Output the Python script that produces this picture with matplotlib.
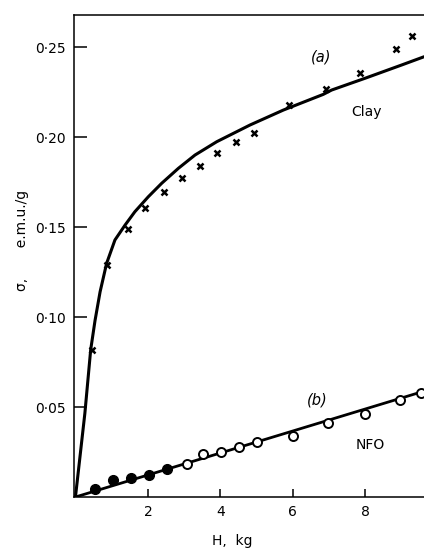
import matplotlib
matplotlib.use("Agg")
import matplotlib.pyplot as plt
from matplotlib.ticker import FixedLocator

# ---- data ----
clay_h = [0.46, 0.86, 1.45, 1.93, 2.44, 2.94, 3.45, 3.92, 4.42, 4.92, 5.9, 6.92, 7.86, 8.85, 9.3]
clay_sigma = [0.0817, 0.129, 0.149, 0.1604, 0.1696, 0.177, 0.184, 0.191, 0.197, 0.202, 0.218, 0.2265, 0.2357, 0.249, 0.256]

clay_fit_h = [0.0, 0.26, 0.42, 0.54, 0.68, 0.86, 1.09, 1.37, 1.64, 2.01, 2.38, 2.84, 3.3, 3.9, 4.82, 5.74, 6.84, 7.07, 8.0, 9.0, 9.62]
clay_fit_sigma = [0.0, 0.0465, 0.0817, 0.098, 0.114, 0.1298, 0.1428, 0.1511, 0.1585, 0.1668, 0.1743, 0.1826, 0.1900, 0.1974, 0.2067, 0.2150, 0.2237, 0.2261, 0.2327, 0.2400, 0.2446]

nfo_filled_h = [0.53, 1.04, 1.54, 2.03, 2.53]
nfo_filled_sigma = [0.0044, 0.0094, 0.0106, 0.0122, 0.0155]
nfo_open_h = [3.08, 3.52, 4.02, 4.51, 5.0, 6.0, 6.97, 8.0, 8.97, 9.54]
nfo_open_sigma = [0.0185, 0.0241, 0.025, 0.028, 0.0304, 0.0341, 0.041, 0.046, 0.054, 0.058]

nfo_fit_h = [0.0, 9.62]
nfo_fit_sigma = [0.0, 0.0588]

x_ticks = [2, 4, 6, 8]
y_ticks = [0.05, 0.10, 0.15, 0.20, 0.25]
y_tick_labels = ["0·05", "0·10", "0·15", "0·20", "0·25"]

plt.rcParams['font.family'] = ['DejaVu Sans']

fig = plt.figure(figsize=(4.24, 5.48), dpi=100)
ax = fig.add_axes([74/424, 51/548, 350/424, 482/548])

ax.plot(clay_fit_h, clay_fit_sigma, color='black', lw=2.2, solid_joinstyle='round', solid_capstyle='round', zorder=2)
ax.plot(clay_h, clay_sigma, linestyle='none', marker='x', color='black', ms=4.5, mew=1.8, zorder=3)

ax.plot(nfo_fit_h, nfo_fit_sigma, color='black', lw=2.0, zorder=2)
ax.plot(nfo_filled_h, nfo_filled_sigma, linestyle='none', marker='o', color='black', ms=7, zorder=3)
ax.plot(nfo_open_h, nfo_open_sigma, linestyle='none', marker='o', mfc='white', mec='black', ms=6.5, mew=1.4, zorder=3)

ax.set_xlim(-0.04, 9.62)
ax.set_ylim(0, 0.2678)

ax.spines['right'].set_visible(False)
for s in ['left', 'bottom', 'top']:
    ax.spines[s].set_linewidth(1.1)

ax.xaxis.set_major_locator(FixedLocator(x_ticks))
ax.yaxis.set_major_locator(FixedLocator(y_ticks))
ax.set_yticklabels(y_tick_labels)
ax.set_xticklabels([str(t) for t in x_ticks])
ax.tick_params(axis='y', direction='in', length=9, width=1.1, labelsize=10, pad=6)
ax.tick_params(axis='x', direction='in', length=6, width=1.1, labelsize=10, pad=6)

ax.text(6.79, 0.2446, "(a)", fontsize=10.5, style='italic', ha='center', va='center')
ax.text(8.04, 0.2137, "Clay", fontsize=10, ha='center', va='center')
ax.text(6.66, 0.0539, "(b)", fontsize=10.5, style='italic', ha='center', va='center')
ax.text(8.13, 0.0289, "NFO", fontsize=10, ha='center', va='center')

fig.text(232/424, 1 - 541/548, "H,  kg", fontsize=10, ha='center', va='center')
fig.text(22/424, 1 - 240/548, "σ,       e.m.u./g", fontsize=10, rotation=90, ha='center', va='center')

fig.savefig("out.png", dpi=100)
